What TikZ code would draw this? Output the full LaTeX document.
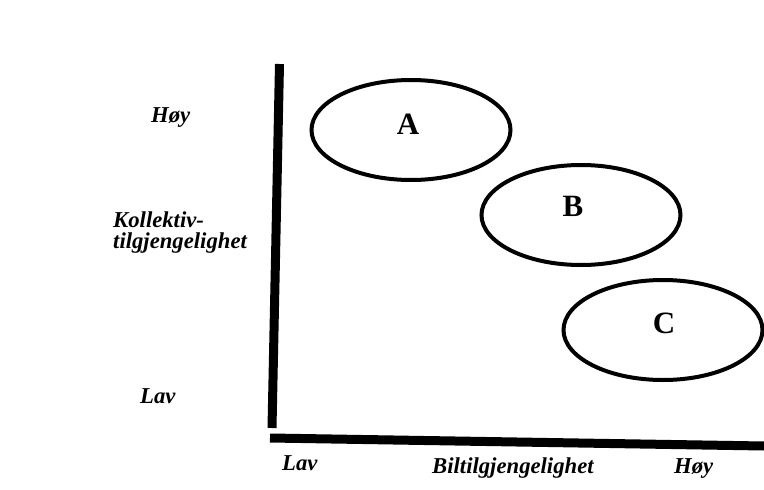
\documentclass[tikz,border=0pt]{standalone}
\usepackage{fontspec}
\setmainfont{Liberation Serif}
\usetikzlibrary{shapes.geometric}
\tikzset{
  lbl/.style={anchor=base west, inner sep=0pt, font=\fontsize{22.7}{27}\selectfont\bfseries\itshape},
  oval/.style={ellipse, draw=black, line width=4pt, inner sep=0pt, minimum width=199pt, minimum height=100pt},
  letter/.style={inner sep=0pt, font=\fontsize{31}{36}\selectfont\bfseries},
  axis/.style={line width=9pt, line cap=butt}
}
\begin{document}
\begin{tikzpicture}[x=1pt, y=-1pt]
\useasboundingbox (0,0) rectangle (764,490);
% axes
\coordinate (vtop) at (279.5,64);
\coordinate (vbot) at (272,428);
\coordinate (hleft) at (270,438);
\coordinate (hright) at (764,446);
\draw[axis] (vtop) -- (vbot);
\draw[axis] (hleft) -- (hright);
% ellipses
\node[oval] (eA) at (411,130) {};
\node[oval] (eB) at (581,215) {};
\node[oval] (eC) at (663,330) {};
\node[letter] (lA) at (408,124) {A};
\node[letter] (lB) at (573,206) {B};
\node[letter] (lC) at (664,323) {C};
% axis labels
\node[lbl] (yhigh) at (151,122) {Høy};
\node[lbl] (ytitle1) at (113,227.5) {Kollektiv-};
\node[lbl] (ytitle2) at (113,248) {tilgjengelighet};
\node[lbl] (ylow) at (140,403) {Lav};
\node[lbl] (xlow) at (282,470) {Lav};
\node[lbl] (xtitle) at (432,473) {Biltilgjengelighet};
\node[lbl] (xhigh) at (674,473) {Høy};
\end{tikzpicture}
\end{document}
